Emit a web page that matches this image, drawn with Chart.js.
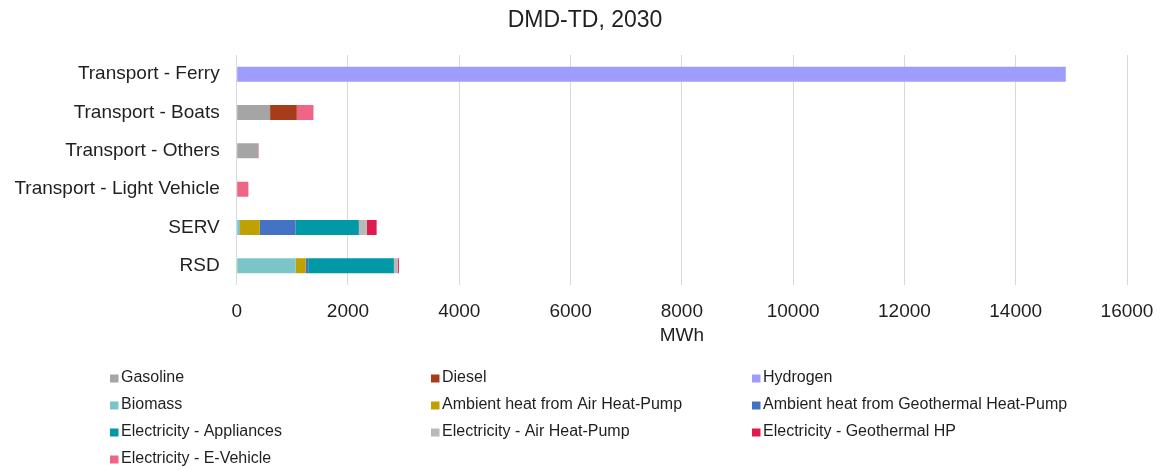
<!DOCTYPE html>
<html>
<head>
<meta charset="utf-8">
<script src="https://cdn.jsdelivr.net/npm/chart.js@4"></script>
<style>
  html, body { margin: 0; padding: 0; background: #ffffff; }
  #wrap { width: 1161px; height: 471px; }
</style>
</head>
<body>
<div id="wrap"><canvas id="c" width="1161" height="471"></canvas></div>
<script>
// Final energy demand by sector and carrier, 2030 (MWh)
const categories = ['Transport - Ferry', 'Transport - Boats', 'Transport - Others', 'Transport - Light Vehicle', 'SERV', 'RSD'];

const gasoline       = [null, 600, 385, null, null, null];
const diesel         = [null, 480, null, null, null, null];
const hydrogen       = [14900, null, null, null, null, null];
const biomass        = [null, null, null, null, 60, 1060];
const ambientAirHP   = [null, null, null, null, 355, 180];
const ambientGeoHP   = [null, null, null, null, 640, 45];
const elecAppliances = [null, null, null, null, 1140, 1540];
const elecAirHP      = [null, null, null, null, 145, 70];
const elecGeoHP      = [null, null, null, null, 175, 20];
const elecEVehicle   = [null, 300, 10, 210, null, null];

const xTicks = [0, 2000, 4000, 6000, 8000, 10000, 12000, 14000, 16000];
const chartTitle = 'DMD-TD, 2030';

const series = [
  { label: 'Gasoline', data: gasoline, color: '#A5A5A5' },
  { label: 'Diesel', data: diesel, color: '#A63C1A' },
  { label: 'Hydrogen', data: hydrogen, color: '#9E9CFC' },
  { label: 'Biomass', data: biomass, color: '#7BC5C8' },
  { label: 'Ambient heat from Air Heat-Pump', data: ambientAirHP, color: '#BFA100' },
  { label: 'Ambient heat from Geothermal Heat-Pump', data: ambientGeoHP, color: '#4472C4' },
  { label: 'Electricity - Appliances', data: elecAppliances, color: '#0099A5' },
  { label: 'Electricity - Air Heat-Pump', data: elecAirHP, color: '#B9B9B9' },
  { label: 'Electricity - Geothermal HP', data: elecGeoHP, color: '#E01A4F' },
  { label: 'Electricity - E-Vehicle', data: elecEVehicle, color: '#EF6586' }
];

const FONT = "'Liberation Sans', Arial, sans-serif";
const TEXT = '#1f1f1f';

// Title centred over the plot, and a three-column legend below it
const decorations = {
  id: 'decorations',
  afterDraw(chart) {
    const ctx = chart.ctx;
    ctx.save();
    ctx.fillStyle = TEXT;
    ctx.font = '23px ' + FONT;
    ctx.textAlign = 'center';
    ctx.textBaseline = 'middle';
    ctx.fillText(chartTitle, 585, 21);

    const colX = [110, 431, 752];
    const rowY = [378, 405, 432, 459];
    ctx.font = '16px ' + FONT;
    ctx.textAlign = 'left';
    chart.data.datasets.forEach((ds, i) => {
      const x = colX[i % 3];
      const y = rowY[Math.floor(i / 3)];
      ctx.fillStyle = ds.backgroundColor;
      ctx.fillRect(x, y - 3.5, 8.5, 8);
      ctx.fillStyle = TEXT;
      ctx.fillText(ds.label, x + 11, y);
    });
    ctx.restore();
  }
};

new Chart(document.getElementById('c'), {
  type: 'bar',
  data: {
    labels: categories,
    datasets: series.map(s => ({
      label: s.label,
      data: s.data,
      backgroundColor: s.color,
      borderWidth: 0,
      barPercentage: 0.49,
      categoryPercentage: 0.8
    }))
  },
  options: {
    indexAxis: 'y',
    responsive: false,
    animation: false,
    layout: { padding: { left: 11.7, right: 34, top: 55, bottom: 124 } },
    plugins: {
      legend: { display: false },
      tooltip: { enabled: false },
      title: { display: false }
    },
    scales: {
      x: {
        stacked: true,
        min: 0,
        max: 16000,
        afterBuildTicks: scale => { scale.ticks = xTicks.map(v => ({ value: v })); },
        afterFit: scale => {
          scale.height = 62;
          scale.paddingLeft = 0;
          scale.paddingRight = 0;
        },
        grid: { color: '#D9D9D9', lineWidth: 1, drawTicks: false },
        border: { display: false },
        ticks: {
          color: TEXT,
          font: { family: FONT, size: 19 },
          padding: 15,
          callback: v => String(v)
        },
        title: {
          display: true,
          text: 'MWh',
          color: TEXT,
          font: { family: FONT, size: 19 },
          padding: { top: 0, bottom: 0 }
        }
      },
      y: {
        stacked: true,
        afterFit: scale => { scale.width = 225; },
        grid: { display: false, drawTicks: false },
        border: { display: false },
        ticks: { color: TEXT, font: { family: FONT, size: 19 }, padding: 17 }
      }
    }
  },
  plugins: [decorations]
});
</script>
</body>
</html>
